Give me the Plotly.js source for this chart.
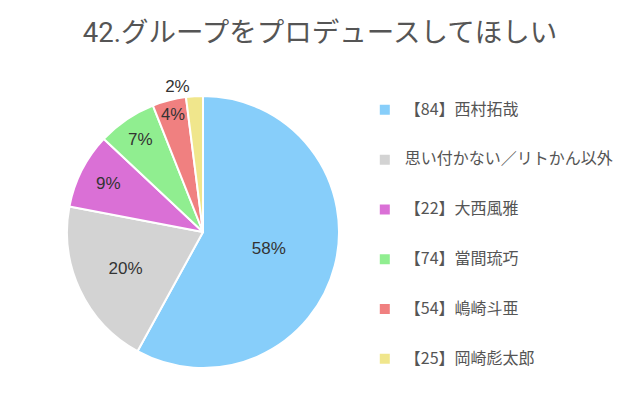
<!DOCTYPE html>
<html>
<head>
<meta charset="utf-8">
<script src="https://cdn.plot.ly/plotly-3.0.1.min.js"></script>
<style>
  html, body { margin: 0; padding: 0; background: #fff; }
  #pie { width: 640px; height: 410px; }
</style>
</head>
<body>
<div id="pie"></div>
<script>
var labels = ['【84】西村拓哉', '思い付かない／リトかん以外', '【22】大西風雅', '【74】當間琉巧', '【54】嶋崎斗亜', '【25】岡崎彪太郎'];
var values = [58, 20, 9, 7, 4, 2];
var sliceColors = ['#87CEFA', '#D3D3D3', '#DA70D6', '#90EE90', '#F08080', '#F0E68C'];
var textPos = ['inside', 'inside', 'inside', 'inside', 'inside', 'outside'];

// legend rows are spaced out with blank lines around each label
var legendLabels = labels.map(function (l) {
    return ' <br><span style="font-size:16px">' + l + '</span><br> ';
});

var data = [{
    type: 'pie',
    values: values,
    labels: legendLabels,
    sort: false,
    direction: 'clockwise',
    rotation: 0,
    marker: {
        colors: sliceColors,
        line: {color: '#ffffff', width: 2}
    },
    textinfo: 'percent',
    textposition: textPos,
    insidetextorientation: 'horizontal',
    textfont: {family: 'Liberation Sans, Arial, sans-serif', size: 17, color: '#333333'},
    outsidetextfont: {family: 'Liberation Sans, Arial, sans-serif', size: 17, color: '#333333'},
    hoverinfo: 'label+percent',
    domain: {x: [0.1047, 0.5297], y: [0.1024, 0.7659]}
}];

var layout = {
    width: 640,
    height: 410,
    margin: {t: 0, b: 0, l: 0, r: 0},
    paper_bgcolor: '#ffffff',
    title: {
        text: '42.グループをプロデュースしてほしい',
        font: {family: 'Roboto, Noto Sans CJK JP, sans-serif', size: 27.5, color: '#555555'},
        x: 0.5,
        xanchor: 'center',
        y: 0.92,
        yanchor: 'middle'
    },
    showlegend: true,
    legend: {
        x: 0.570,
        y: 0.805,
        xanchor: 'left',
        yanchor: 'top',
        font: {family: 'Noto Sans CJK JP, sans-serif', size: 12, color: '#555555'}
    }
};

Plotly.newPlot('pie', data, layout, {displayModeBar: false});
</script>
</body>
</html>
